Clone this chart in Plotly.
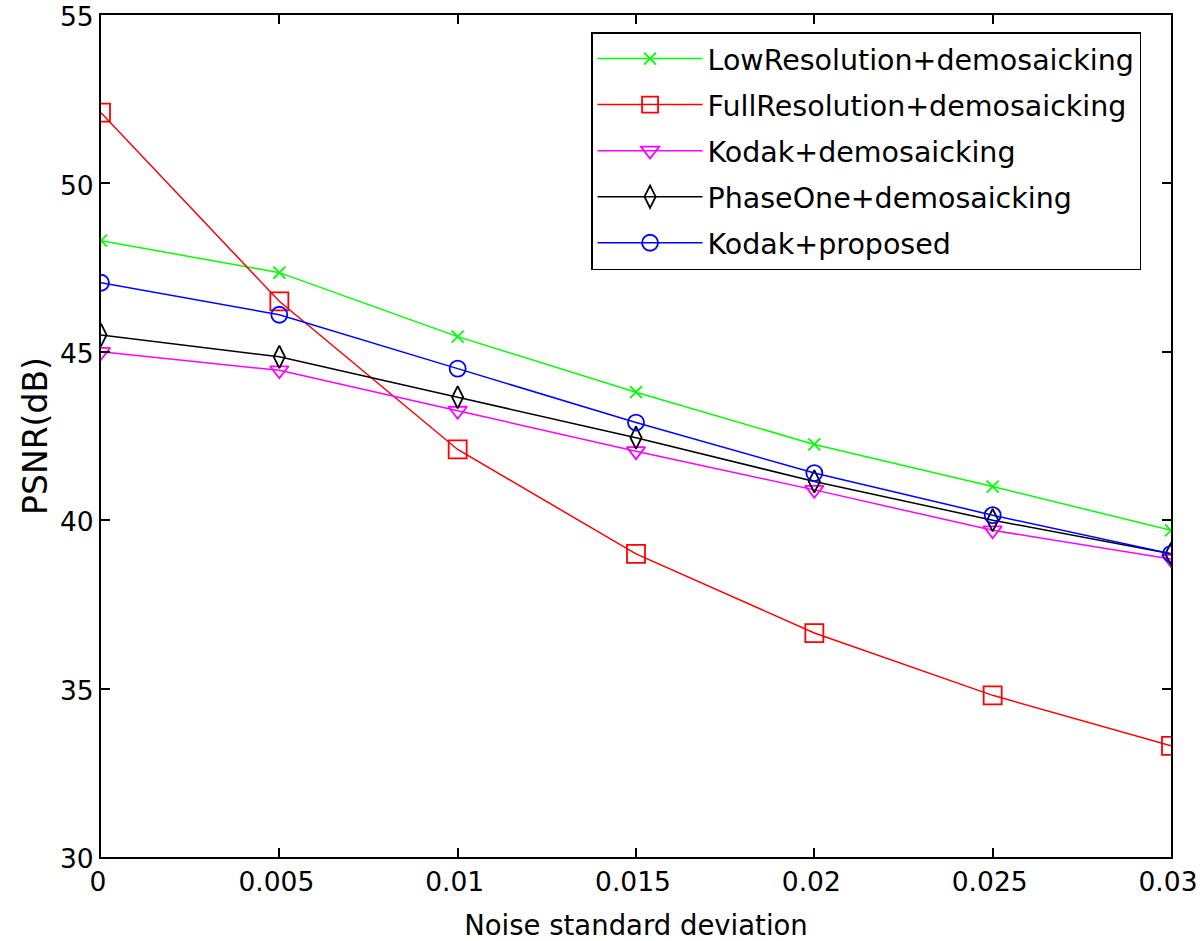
import plotly.graph_objects as go

noise_std = [0, 0.005, 0.01, 0.015, 0.02, 0.025, 0.03]
x_tick_labels = ["0", "0.005", "0.01", "0.015", "0.02", "0.025", "0.03"]
y_tick_values = [30, 35, 40, 45, 50, 55]

low_res_demosaicking = [48.3, 47.35, 45.45, 43.8, 42.25, 41.0, 39.7]
full_res_demosaicking = [52.1, 46.5, 42.1, 39.0, 36.65, 34.8, 33.3]
kodak_demosaicking = [45.0, 44.45, 43.25, 42.05, 40.9, 39.7, 38.85]
phaseone_demosaicking = [45.5, 44.85, 43.65, 42.45, 41.15, 40.0, 39.0]
kodak_proposed = [47.05, 46.1, 44.5, 42.9, 41.4, 40.15, 39.0]

series = [
    ("LowResolution+demosaicking", low_res_demosaicking, "#00ff00", "x-thin-open", 12),
    ("FullResolution+demosaicking", full_res_demosaicking, "#ff0000", "square-open", 18),
    ("Kodak+demosaicking", kodak_demosaicking, "#ff00ff", "triangle-down-open", 16),
    ("PhaseOne+demosaicking", phaseone_demosaicking, "#000000", "diamond-tall-open", 16),
    ("Kodak+proposed", kodak_proposed, "#0000ff", "circle-open", 16),
]

fig = go.Figure()
for name, ys, color, sym, size in series:
    fig.add_trace(go.Scatter(
        x=noise_std, y=ys, name=name, mode="lines+markers", legendgroup=name,
        line=dict(color=color, width=1.5),
        marker=dict(symbol=sym, size=size, color=color, line=dict(color=color, width=1.8)),
    ))

axis_common = dict(
    showline=True, linecolor="black", linewidth=2, mirror="ticks",
    ticks="inside", ticklen=9, tickwidth=1.5, tickcolor="black",
    showgrid=False, zeroline=False, automargin=False,
    ticklabeloverflow="allow",
    tickfont=dict(family="DejaVu Sans", size=26.5, color="black"),
)

fig.update_layout(
    width=1200, height=941,
    margin=dict(l=101, r=29, t=15, b=84),
    paper_bgcolor="white", plot_bgcolor="white",
    font=dict(family="DejaVu Sans", color="black"),
    xaxis=dict(range=[0, 0.03], tickvals=noise_std, ticktext=x_tick_labels,
               ticklabelshift=-3,
               title=dict(text="Noise standard deviation", font=dict(size=27.5), standoff=21),
               **axis_common),
    yaxis=dict(range=[30, 55], tickvals=y_tick_values, ticklabelshift=2,
               title=dict(text="PSNR(dB)", font=dict(size=33), standoff=2),
               **axis_common),
    legend=dict(x=0.458, y=0.9798, xanchor="left", yanchor="top",
                bordercolor="black", borderwidth=1.5, bgcolor="white",
                font=dict(family="DejaVu Sans", size=28.5, color="black"),
                itemwidth=105, tracegroupgap=6),
)

fig.write_html(
    "out.html",
    config={"displayModeBar": False},
    post_script="document.body.style.margin='0';document.body.style.overflow='hidden';",
)
